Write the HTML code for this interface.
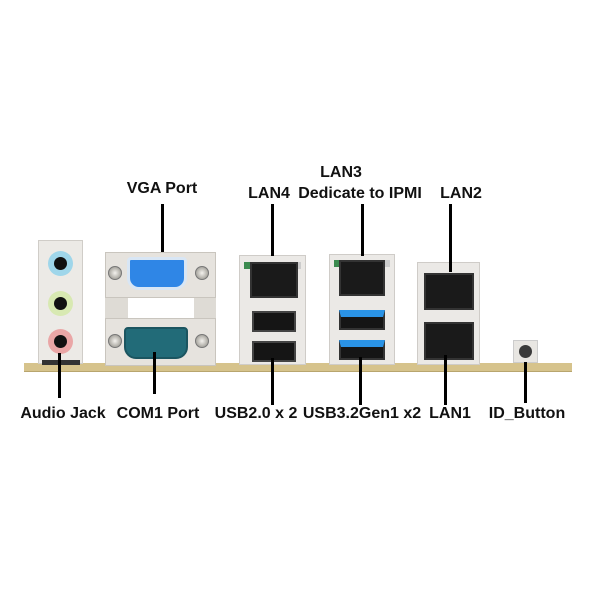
<!DOCTYPE html>
<html><head><style>
body{margin:0;width:600px;height:600px;background:#fff;position:relative;overflow:hidden;font-family:"Liberation Sans",Arial,sans-serif}
div{position:absolute;box-sizing:border-box}
.t{font-weight:bold;font-size:16px;color:#111;white-space:nowrap;text-align:center;width:160px;line-height:16px}
.l{background:#000;width:3px}
.jack{border-radius:50%;width:25px;height:25px}
.jack::after{content:"";position:absolute;left:6px;top:6px;width:13px;height:13px;border-radius:50%;background:#111}
.rj{background:#1a1a1a;border:2px solid #333}
.usb{background:#151515;border:2px solid #444}
.usb3{background:#151515;border:2px solid #333}
.scr{width:14px;height:14px;border-radius:50%;background:radial-gradient(#f4f2ee,#8a8880);border:1px solid #777}
</style></head><body>
<!-- PCB -->
<div style="left:24px;top:363px;width:548px;height:9px;background:#d6c38c;border-bottom:1px solid #b8a56e"></div>
<!-- audio -->
<div style="left:38px;top:240px;width:45px;height:124px;background:#eceae6;border:1px solid #d0cdc8"></div>
<div style="left:42px;top:360px;width:38px;height:5px;background:#333"></div>
<div class="jack" style="left:48px;top:251px;background:#9fd6ea"></div>
<div class="jack" style="left:48px;top:291px;background:#d8e9b2"></div>
<div class="jack" style="left:48px;top:329px;background:#eaa6a6"></div>
<!-- VGA/COM bracket -->
<div style="left:105px;top:252px;width:111px;height:46px;background:#e6e3de;border:1px solid #c9c5be"></div>
<div style="left:105px;top:298px;width:23px;height:22px;background:#dedbd5"></div>
<div style="left:194px;top:298px;width:22px;height:22px;background:#dedbd5"></div>
<div style="left:105px;top:318px;width:111px;height:48px;background:#e6e3de;border:1px solid #c9c5be"></div>
<div style="left:127px;top:257px;width:60px;height:33px;background:#2f86e6;border:3px solid #d8e6f5;border-radius:4px 4px 12px 12px"></div>
<div class="scr" style="left:108px;top:266px"></div>
<div class="scr" style="left:195px;top:266px"></div>
<div style="left:124px;top:327px;width:64px;height:32px;background:#226b78;border:2px solid #1b5560;border-radius:4px 4px 12px 12px"></div>
<div class="scr" style="left:108px;top:334px"></div>
<div class="scr" style="left:195px;top:334px"></div>
<!-- LAN4 block -->
<div style="left:239px;top:255px;width:67px;height:110px;background:#ebe9e6;border:1px solid #cfccc8"></div>
<div style="left:244px;top:262px;width:12px;height:7px;background:#3b8a4f"></div>
<div style="left:289px;top:262px;width:12px;height:7px;background:#ccc"></div>
<div class="rj" style="left:250px;top:262px;width:48px;height:36px"></div>
<div class="usb" style="left:252px;top:311px;width:44px;height:21px"></div>
<div class="usb" style="left:252px;top:341px;width:44px;height:21px"></div>
<!-- LAN3 block -->
<div style="left:329px;top:254px;width:66px;height:111px;background:#ebe9e6;border:1px solid #cfccc8"></div>
<div style="left:334px;top:260px;width:12px;height:7px;background:#3b8a4f"></div>
<div style="left:378px;top:260px;width:12px;height:7px;background:#ccc"></div>
<div class="rj" style="left:339px;top:260px;width:46px;height:36px"></div>
<div class="usb3" style="left:339px;top:310px;width:46px;height:20px;border-top:7px solid #2a93e6"></div>
<div class="usb3" style="left:339px;top:340px;width:46px;height:20px;border-top:7px solid #2a93e6"></div>
<!-- LAN2/LAN1 block -->
<div style="left:417px;top:262px;width:63px;height:103px;background:#ebe9e6;border:1px solid #cfccc8"></div>
<div class="rj" style="left:424px;top:273px;width:50px;height:37px"></div>
<div class="rj" style="left:424px;top:322px;width:50px;height:38px"></div>
<!-- ID button -->
<div style="left:513px;top:340px;width:25px;height:23px;background:#e8e6e2;border:1px solid #ccc"></div>
<div style="left:519px;top:345px;width:13px;height:13px;border-radius:50%;background:#3a3a3a"></div>
<!-- lines -->
<div class="l" style="left:161px;top:204px;height:48px"></div>
<div class="l" style="left:271px;top:204px;height:52px"></div>
<div class="l" style="left:361px;top:204px;height:52px"></div>
<div class="l" style="left:449px;top:204px;height:68px"></div>
<div class="l" style="left:58px;top:353px;height:45px"></div>
<div class="l" style="left:153px;top:352px;height:42px"></div>
<div class="l" style="left:271px;top:358px;height:47px"></div>
<div class="l" style="left:359px;top:357px;height:48px"></div>
<div class="l" style="left:444px;top:355px;height:50px"></div>
<div class="l" style="left:524px;top:362px;height:41px"></div>
<!-- labels -->
<div class="t" style="left:82px;top:181px">VGA Port</div>
<div class="t" style="left:189px;top:186px">LAN4</div>
<div class="t" style="left:261px;top:165px">LAN3</div>
<div class="t" style="left:280px;top:186px">Dedicate to IPMI</div>
<div class="t" style="left:381px;top:186px">LAN2</div>
<div class="t" style="left:-17px;top:406px">Audio Jack</div>
<div class="t" style="left:78px;top:406px">COM1 Port</div>
<div class="t" style="left:176px;top:406px">USB2.0 x 2</div>
<div class="t" style="left:282px;top:406px">USB3.2Gen1 x2</div>
<div class="t" style="left:370px;top:406px">LAN1</div>
<div class="t" style="left:447px;top:406px">ID_Button</div>
</body></html>
